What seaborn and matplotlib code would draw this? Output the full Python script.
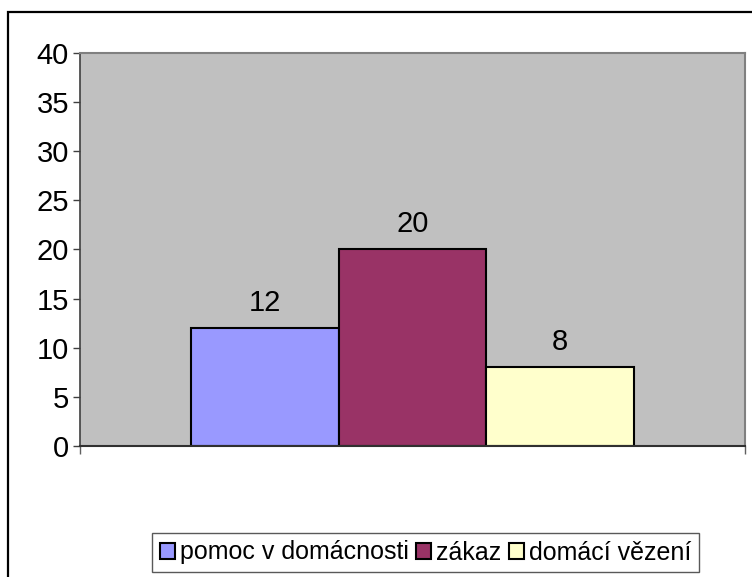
import matplotlib
matplotlib.use("Agg")
import matplotlib.pyplot as plt
import pandas as pd
import seaborn as sns
from matplotlib.patches import Rectangle

## DATOS DEL GRÁFICO

skupina = [""]
kategorie = ["pomoc v domácnosti", "zákaz", "domácí vězení"]
hodnoty = [12, 20, 8]
barvy = ["#9999FF", "#993366", "#FFFFCC"]
y_ticks = [0, 5, 10, 15, 20, 25, 30, 35, 40]

df = pd.DataFrame({
    "skupina": skupina * len(kategorie),
    "kategorie": kategorie,
    "hodnota": hodnoty,
})

sns.set_style("white")
plt.rcParams["font.family"] = ["Liberation Sans", "DejaVu Sans"]
plt.rcParams["text.color"] = "black"
plt.rcParams["xtick.labelcolor"] = "black"
plt.rcParams["ytick.labelcolor"] = "black"

fig = plt.figure(figsize=(7.52, 5.77), dpi=100)
ax = fig.add_axes([80 / 752, 1 - 446 / 577, 665 / 752, 393 / 577])
ax.set_facecolor("#C0C0C0")

sns.barplot(
    data=df,
    x="skupina",
    y="hodnota",
    hue="kategorie",
    hue_order=kategorie,
    palette=barvy,
    width=0.665,
    edgecolor="black",
    linewidth=1.5,
    saturation=1,
    ax=ax,
)

for cont in ax.containers:
    ax.bar_label(cont, padding=8, fontsize=21, color="black")

ax.set_ylim(0, 40)
ax.set_xlim(-0.5, 0.5)
ax.set_yticks(y_ticks)
ax.set_yticklabels([str(t) for t in y_ticks], fontsize=21, color="black")
ax.set_xticks([-0.5, 0.5])
ax.set_xticklabels(["", ""])
ax.tick_params(axis="y", direction="out", length=5, width=1, color="#404040", pad=3, left=True)
ax.tick_params(axis="x", direction="out", length=6, width=1, color="#606060", bottom=True)
ax.set_xlabel("")
ax.set_ylabel("")

for lado in ["top", "right"]:
    ax.spines[lado].set_color("#808080")
    ax.spines[lado].set_linewidth(1.5)
ax.spines["left"].set_color("#404040")
ax.spines["left"].set_linewidth(1.2)
ax.spines["bottom"].set_color("#303030")
ax.spines["bottom"].set_linewidth(1.5)

ax.legend(
    loc="center",
    bbox_to_anchor=(425.5 / 752, 1 - 552.5 / 577),
    bbox_transform=fig.transFigure,
    ncol=3,
    fontsize=18,
    frameon=True,
    fancybox=False,
    edgecolor="#303030",
    handlelength=0.6,
    handleheight=0.6,
    handletextpad=0.2,
    columnspacing=0.3,
    borderpad=0.3,
    borderaxespad=0,
)
leg = ax.get_legend()
leg.get_frame().set_linewidth(1.0)
for t in leg.get_texts():
    t.set_color("black")
for h in leg.legend_handles:
    h.set_edgecolor("black")
    h.set_linewidth(1.5)

# marco exterior del gráfico
fig.add_artist(Rectangle((8 / 752, -0.1), 2, 1 - 12 / 577 + 0.1,
                         fill=False, lw=1.6, edgecolor="black",
                         transform=fig.transFigure))

fig.savefig("out.png", dpi=100, facecolor="white")
